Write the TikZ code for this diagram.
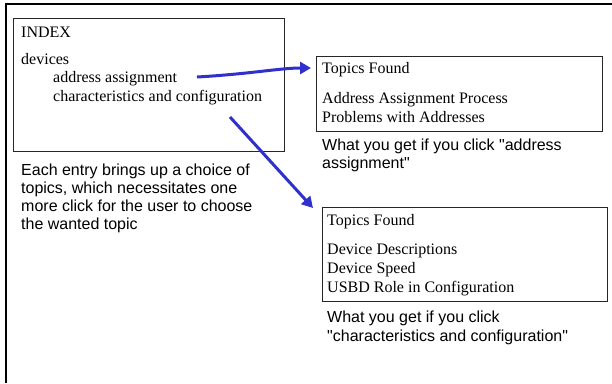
\documentclass[tikz,border=0pt]{standalone}
\usepackage{fontspec}
\setmainfont{Liberation Serif}
\newfontfamily\arialf{Liberation Sans}
\usetikzlibrary{arrows.meta}
\definecolor{arrowblue}{RGB}{48,48,204}
\begin{document}
\begin{tikzpicture}[x=1pt,y=-1pt,
  box/.style={draw=black!85,line width=1pt,inner sep=0pt,anchor=north west},
  serif/.style={inner sep=0pt,anchor=base west,font=\fontsize{16}{19}\selectfont},
  sans/.style={inner sep=0pt,anchor=base west,font=\arialf\fontsize{16}{18}\selectfont},
  link/.style={draw=arrowblue,line width=3pt,-{Triangle[length=11pt,width=12pt]}}]
\useasboundingbox (0,0) rectangle (612,383);
% outer frame (top and left edges)
\draw[line width=1.5pt] (612,4) -- (6,4) -- (6,383);
% INDEX box
\node[box,minimum width=271pt,minimum height=133pt] (idx) at (13,18) {};
\node[serif] (idxt) at (21,37) {INDEX};
\node[serif] (dev) at (21,64.5) {devices};
\node[serif] (addr) at (53,82) {address assignment};
\node[serif] (char) at (53,101) {characteristics and configuration};
% explanation
\node[sans] (e1) at (21,175) {Each entry brings up a choice of};
\node[sans] (e2) at (21,193.3) {topics, which necessitates one};
\node[sans] (e3) at (21,211.6) {more click for the user to choose};
\node[sans] (e4) at (21,229.9) {the wanted topic};
% Topics box 1
\node[box,minimum width=286pt,minimum height=75pt] (tb1) at (316,56) {};
\node[serif] (t1h) at (322,73) {Topics Found};
\node[serif] (t1a) at (322,103) {Address Assignment Process};
\node[serif] (t1b) at (322,122) {Problems with Addresses};
\node[sans] (w1a) at (322,150) {What you get if you click "address};
\node[sans] (w1b) at (322,168) {assignment"};
% Topics box 2
\node[box,minimum width=285pt,minimum height=94pt] (tb2) at (322,207) {};
\node[serif] (t2h) at (327,225) {Topics Found};
\node[serif] (t2a) at (327,254) {Device Descriptions};
\node[serif] (t2b) at (327,273) {Device Speed};
\node[serif] (t2c) at (327,292) {USBD Role in Configuration};
\node[sans] (w2a) at (327,322) {What you get if you click};
\node[sans] (w2b) at (327,341) {"characteristics and configuration"};
% arrows
\coordinate (a1s) at (197,77);
\coordinate (a1e) at (311,68);
\coordinate (a2s) at (230,117);
\coordinate (a2e) at (313,208);
\draw[link] (a1s) .. controls (250,74) and (280,68) .. (a1e);
\draw[link] (a2s) -- (a2e);
\end{tikzpicture}
\end{document}
